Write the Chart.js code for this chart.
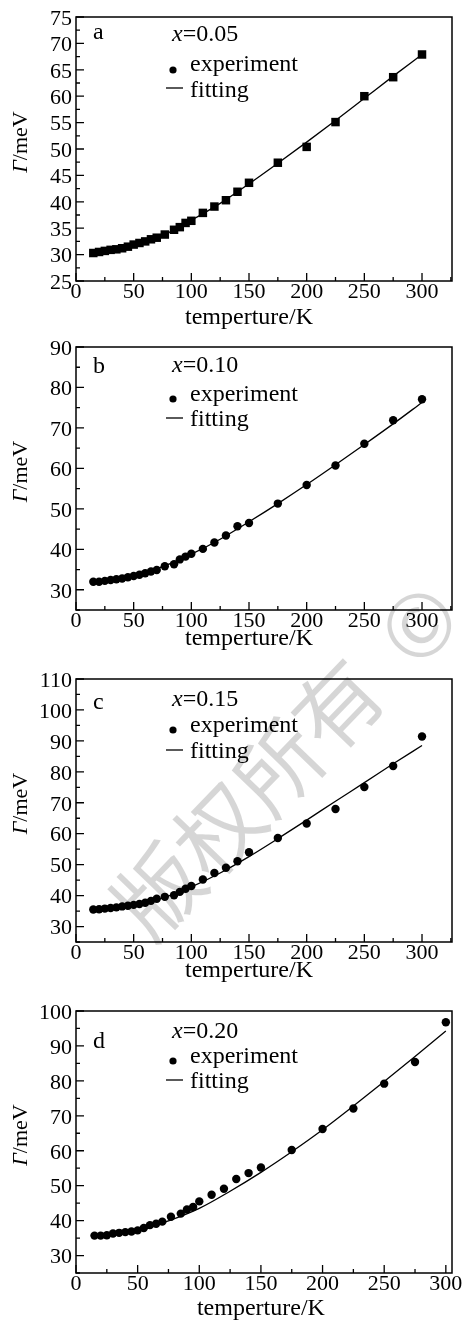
<!DOCTYPE html>
<html>
<head>
<meta charset="utf-8">
<script src="https://cdn.jsdelivr.net/npm/chart.js@4.4.0/dist/chart.umd.min.js"></script>
<style>
html,body{margin:0;padding:0;background:#fff;width:465px;height:1321px;overflow:hidden;position:relative;}
canvas{position:absolute;left:0;}
.wm{position:absolute;font-family:"Noto Sans CJK SC",sans-serif;font-size:86px;line-height:1;color:rgba(0,0,0,0.16);transform:translate(-50%,-50%) rotate(-46deg);pointer-events:none;white-space:nowrap;z-index:5;}
</style>
</head>
<body>
<canvas id="pa"></canvas>
<canvas id="pb"></canvas>
<canvas id="pc"></canvas>
<canvas id="pd"></canvas>
<div class="wm" style="left:155px;top:888px;">版</div>
<div class="wm" style="left:215px;top:826px;">权</div>
<div class="wm" style="left:275px;top:764px;">所</div>
<div class="wm" style="left:334px;top:702px;">有</div>
<div class="wm" style="left:415px;top:621px;">©</div>
<script>
// ---- data ----
const temperatureK = [15,20,25,30,35,40,45,50,55,60,65,70,77,85,90,95,100,110,120,130,140,150,175,200,225,250,275,300];
const gammaA = [30.3,30.5,30.7,30.9,31.0,31.2,31.5,31.9,32.2,32.5,32.9,33.2,33.8,34.7,35.2,36.0,36.4,37.9,39.1,40.3,41.9,43.6,47.4,50.4,55.1,60.0,63.6,67.9];
const gammaB = [32.0,32.0,32.2,32.4,32.6,32.8,33.1,33.4,33.7,34.1,34.5,34.9,35.8,36.3,37.5,38.2,38.9,40.1,41.7,43.4,45.7,46.5,51.3,55.9,60.7,66.1,71.9,77.1];
const gammaC = [35.5,35.6,35.8,36.0,36.2,36.5,36.7,37.0,37.3,37.7,38.3,39.0,39.6,40.1,41.2,42.2,43.1,45.2,47.3,49.0,51.1,54.0,58.6,63.3,68.0,75.1,81.9,91.4];
const gammaD = [35.7,35.7,35.8,36.3,36.5,36.7,36.9,37.2,37.9,38.7,39.1,39.7,41.1,42.0,43.2,43.9,45.5,47.4,49.1,51.9,53.6,55.2,60.2,66.2,72.1,79.2,85.4,96.8];

const fitT = [15,25,50,75,100,125,150,175,200,225,250,275,300];
const fitA = [30.3,30.6,31.9,33.6,36.5,39.7,43.4,47.3,51.3,55.4,59.6,63.8,67.9];
const fitB = [31.9,32.2,33.5,35.7,38.8,42.5,46.8,51.3,56.0,60.9,65.9,71.0,76.3];
const fitC = [35.4,35.7,36.9,39.2,42.8,47.3,52.6,58.4,64.4,70.5,76.5,82.6,88.5];
const fitD = [35.6,35.9,37.0,39.9,43.5,48.4,53.8,59.7,66.0,72.8,79.8,87.0,94.3];

const xTickLabels = [0,50,100,150,200,250,300];
const yTicksA = [25,30,35,40,45,50,55,60,65,70,75];
const yTicksB = [30,40,50,60,70,80,90];
const yTicksC = [30,40,50,60,70,80,90,100,110];
const yTicksD = [30,40,50,60,70,80,90,100];

const panelLetters = ['a','b','c','d'];
const compositions = ['0.05','0.10','0.15','0.20'];
const legendLabels = ['experiment','fitting'];
const xTitle = 'temperture/K';
const yTitleSymbol = 'Γ';
const yTitleUnit = '/meV';

// ---- drawing ----
const SERIF = '"Liberation Serif","Times New Roman",serif';

function pairs(xs, ys){ return xs.map((x,i)=>({x:x, y:ys[i]})); }

const framePlugin = {
  id: 'frame',
  afterDraw(chart, args, opts) {
    const ctx = chart.ctx, a = chart.chartArea;
    const xs = chart.scales.x, ys = chart.scales.y;
    ctx.save();
    ctx.strokeStyle = '#000';
    ctx.lineWidth = 1.5;
    ctx.strokeRect(a.left, a.top, a.right - a.left, a.bottom - a.top);
    ctx.lineWidth = 1.3;
    ctx.beginPath();
    for (let v = 0; v <= xs.max; v += 25) {
      const px = xs.getPixelForValue(v);
      const len = (v % 50 === 0) ? 8 : 4;
      ctx.moveTo(px, a.bottom); ctx.lineTo(px, a.bottom - len);
    }
    for (let v = opts.yMinorStart; v <= ys.max + 1e-6; v += opts.yMinor) {
      const py = ys.getPixelForValue(v);
      const major = opts.yMajor.some(m => Math.abs(m - v) < 1e-6);
      const len = major ? 8 : 4;
      ctx.moveTo(a.left, py); ctx.lineTo(a.left + len, py);
    }
    ctx.stroke();

    ctx.fillStyle = '#000';
    ctx.textBaseline = 'middle';

    // x-axis title, centred on the 0..300 K range
    ctx.textAlign = 'center';
    ctx.font = '24px ' + SERIF;
    ctx.fillText(xTitle, (xs.getPixelForValue(0) + xs.getPixelForValue(300)) / 2, opts.xTitleY);

    // y-axis title with italic Γ
    ctx.save();
    ctx.translate(21, (a.top + a.bottom) / 2 - 7);
    ctx.rotate(-Math.PI / 2);
    ctx.textAlign = 'left';
    ctx.font = 'italic 22px ' + SERIF;
    const w1 = ctx.measureText(yTitleSymbol).width;
    ctx.font = '22px ' + SERIF;
    const w2 = ctx.measureText(yTitleUnit).width;
    const x0 = -(w1 + w2) / 2;
    ctx.font = 'italic 22px ' + SERIF;
    ctx.fillText(yTitleSymbol, x0, 0);
    ctx.font = '22px ' + SERIF;
    ctx.fillText(yTitleUnit, x0 + w1, 0);
    ctx.restore();

    // annotations
    ctx.textAlign = 'left';
    ctx.font = '24px ' + SERIF;
    ctx.fillText(opts.letter, 93, a.top + opts.letterDy);
    ctx.font = 'italic 24px ' + SERIF;
    ctx.fillText('x', 172, a.top + opts.compDy);
    const wx = ctx.measureText('x').width;
    ctx.font = '24px ' + SERIF;
    ctx.fillText('=' + opts.comp, 172 + wx, a.top + opts.compDy);
    // legend
    ctx.beginPath();
    ctx.arc(173, a.top + opts.bulletDy, 3.6, 0, Math.PI * 2);
    ctx.fill();
    ctx.fillText(legendLabels[0], 190, a.top + opts.expDy);
    ctx.lineWidth = 1.3;
    ctx.beginPath();
    ctx.moveTo(166, a.top + opts.fitLineDy); ctx.lineTo(183, a.top + opts.fitLineDy);
    ctx.stroke();
    ctx.fillText(legendLabels[1], 190, a.top + opts.fitDy);
    ctx.restore();
  }
};

function makePanel(id, p) {
  const cv = document.getElementById(id);
  cv.width = 465; cv.height = p.canvasH;
  cv.style.top = p.canvasTop + 'px';
  cv.style.width = '465px'; cv.style.height = p.canvasH + 'px';
  new Chart(cv, {
    type: 'scatter',
    data: {
      datasets: [
        { label: legendLabels[0], data: pairs(temperatureK, p.points), showLine: false,
          pointStyle: p.pointStyle, pointRadius: p.pointRadius, pointBackgroundColor: '#000', pointBorderColor: '#000', pointBorderWidth: 0 },
        { label: legendLabels[1], data: pairs(fitT, p.fit), showLine: true, pointRadius: 0,
          borderColor: '#000', borderWidth: 1.3, cubicInterpolationMode: 'monotone', fill: false }
      ]
    },
    options: {
      responsive: false, animation: false, devicePixelRatio: 1,
      layout: { padding: { left: 0, right: 13, top: p.chartTop - p.canvasTop, bottom: 0 } },
      plugins: {
        legend: { display: false }, tooltip: { enabled: false },
        frame: { letter: p.letter, comp: p.comp, yMinor: p.yMinor, yMinorStart: p.yMinorStart, yMajor: p.yTicks,
                 xTitleY: p.xTitleY - p.canvasTop,
                 letterDy: p.letterDy, compDy: p.compDy, bulletDy: p.bulletDy, expDy: p.expDy, fitLineDy: p.fitLineDy, fitDy: p.fitDy }
      },
      scales: {
        x: {
          type: 'linear', min: 0, max: p.xMax,
          afterBuildTicks: s => { s.ticks = xTickLabels.map(v => ({ value: v })); },
          afterFit: s => { s.height = p.canvasTop + p.canvasH - p.chartBottom; },
          grid: { display: false, drawTicks: false }, border: { display: false },
          ticks: { color: '#000', font: { family: SERIF, size: 22, lineHeight: 1 }, padding: 0, autoSkip: false, maxRotation: 0 },
          title: { display: false }
        },
        y: {
          type: 'linear', min: p.yMin, max: p.yMax,
          afterBuildTicks: s => { s.ticks = p.yTicks.map(v => ({ value: v })); },
          afterFit: s => { s.width = 76; },
          grid: { display: false, drawTicks: false }, border: { display: false },
          ticks: { color: '#000', font: { family: SERIF, size: 22, lineHeight: 1 }, padding: 4, labelOffset: 2, autoSkip: false },
          title: { display: false }
        }
      }
    },
    plugins: [framePlugin]
  });
}

makePanel('pa', { canvasTop: 0, canvasH: 330, chartTop: 17, chartBottom: 281, xTitleY: 318, xMax: 326, yMin: 25, yMax: 75,
  yTicks: yTicksA, yMinor: 2.5, yMinorStart: 25, points: gammaA, fit: fitA, pointStyle: 'rect', pointRadius: 6,
  letter: panelLetters[0], comp: compositions[0], letterDy: 16, compDy: 18, bulletDy: 53, expDy: 48, fitLineDy: 71, fitDy: 74 });
makePanel('pb', { canvasTop: 330, canvasH: 321, chartTop: 347, chartBottom: 610, xTitleY: 639, xMax: 326, yMin: 25, yMax: 90,
  yTicks: yTicksB, yMinor: 5, yMinorStart: 25, points: gammaB, fit: fitB, pointStyle: 'circle', pointRadius: 4.2,
  letter: panelLetters[1], comp: compositions[1], letterDy: 20, compDy: 19, bulletDy: 52, expDy: 48, fitLineDy: 71, fitDy: 73 });
makePanel('pc', { canvasTop: 651, canvasH: 331, chartTop: 679, chartBottom: 942, xTitleY: 971, xMax: 326, yMin: 25, yMax: 110,
  yTicks: yTicksC, yMinor: 5, yMinorStart: 25, points: gammaC, fit: fitC, pointStyle: 'circle', pointRadius: 4.2,
  letter: panelLetters[2], comp: compositions[2], letterDy: 24, compDy: 21, bulletDy: 51, expDy: 47, fitLineDy: 71, fitDy: 73 });
makePanel('pd', { canvasTop: 982, canvasH: 339, chartTop: 1011, chartBottom: 1273, xTitleY: 1309, xMax: 305, yMin: 25, yMax: 100,
  yTicks: yTicksD, yMinor: 5, yMinorStart: 25, points: gammaD, fit: fitD, pointStyle: 'circle', pointRadius: 4.2,
  letter: panelLetters[3], comp: compositions[3], letterDy: 31, compDy: 21, bulletDy: 50, expDy: 46, fitLineDy: 69, fitDy: 71 });
</script>
</body>
</html>
